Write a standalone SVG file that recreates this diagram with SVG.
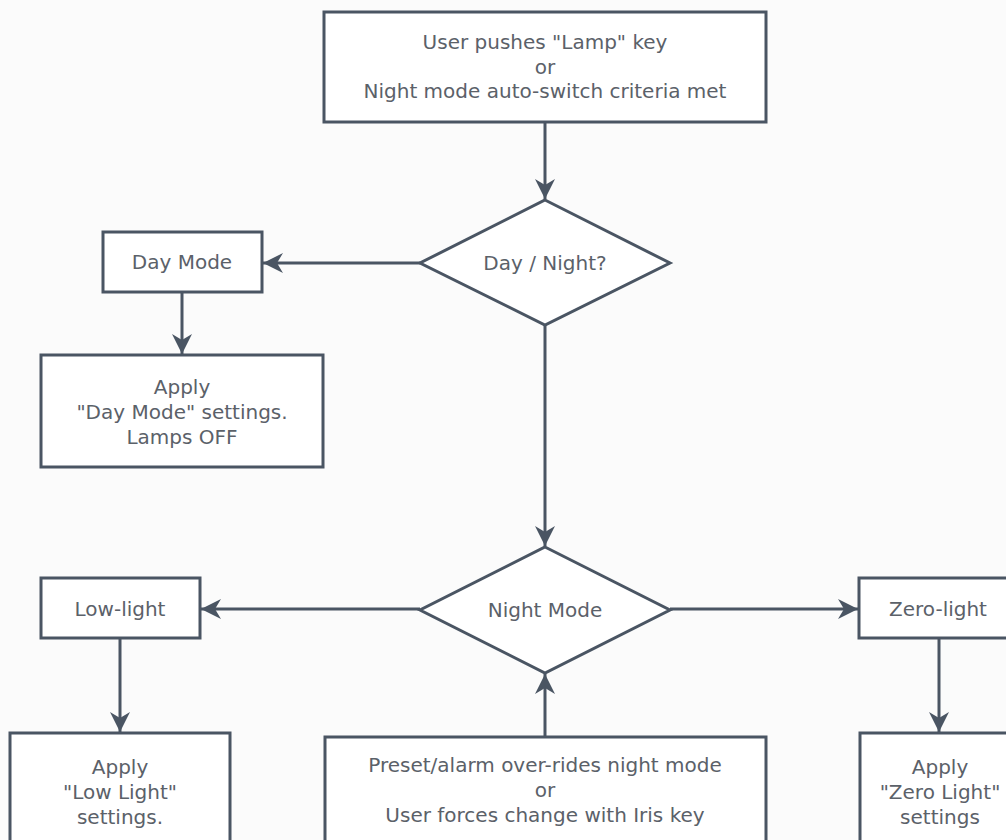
<svg xmlns="http://www.w3.org/2000/svg" width="1006" height="840" viewBox="0 0 1006 840">
<style>
.box{fill:#ffffff;stroke:#4a5563;stroke-width:3}
.t{font-family:"DejaVu Sans",sans-serif;font-size:20px;fill:#5b6169;text-anchor:middle;dominant-baseline:central}
.c{stroke:#4a5563;stroke-width:3;fill:none}
</style>
<defs>
<marker id="ah" markerUnits="userSpaceOnUse" markerWidth="22" markerHeight="22" refX="20" refY="10" orient="auto" viewBox="0 0 22 20">
<path d="M0,0 L20,10 L0,20 L6,10 Z" fill="#4a5563"/>
</marker>
</defs>
<rect width="1006" height="840" fill="#fbfbfb"/>
<g id="connectors">
<line class="c" x1="545" y1="122" x2="545" y2="199" marker-end="url(#ah)"/>
<line class="c" x1="420" y1="263" x2="263" y2="263" marker-end="url(#ah)"/>
<line class="c" x1="182" y1="292" x2="182" y2="354" marker-end="url(#ah)"/>
<line class="c" x1="545" y1="325" x2="545" y2="546" marker-end="url(#ah)"/>
<line class="c" x1="420" y1="609" x2="201" y2="609" marker-end="url(#ah)"/>
<line class="c" x1="670" y1="609" x2="858" y2="609" marker-end="url(#ah)"/>
<line class="c" x1="120" y1="638" x2="120" y2="732" marker-end="url(#ah)"/>
<line class="c" x1="939" y1="638" x2="939" y2="732" marker-end="url(#ah)"/>
<line class="c" x1="545" y1="737" x2="545" y2="674" marker-end="url(#ah)"/>
</g>
<g id="start">
<rect class="box" x="324" y="12" width="442" height="110"/>
<text class="t" x="545" y="42">User pushes "Lamp" key</text>
<text class="t" x="545" y="67">or</text>
<text class="t" x="545" y="91">Night mode auto-switch criteria met</text>
</g>
<g id="daynight">
<polygon class="box" points="545,200 670,263 545,325 420,263"/>
<text class="t" x="545" y="263">Day / Night?</text>
</g>
<g id="daymode">
<rect class="box" x="103" y="232" width="159" height="60"/>
<text class="t" x="182" y="262">Day Mode</text>
</g>
<g id="applyday">
<rect class="box" x="41" y="355" width="282" height="112"/>
<text class="t" x="182" y="387">Apply</text>
<text class="t" x="182" y="412">"Day Mode" settings.</text>
<text class="t" x="182" y="437">Lamps OFF</text>
</g>
<g id="nightmode">
<polygon class="box" points="545,547 670,610 545,673 420,610"/>
<text class="t" x="545" y="610">Night Mode</text>
</g>
<g id="lowlight">
<rect class="box" x="41" y="578" width="159" height="60"/>
<text class="t" x="120" y="609">Low-light</text>
</g>
<g id="applylow">
<rect class="box" x="10" y="733" width="220" height="140"/>
<text class="t" x="120" y="767">Apply</text>
<text class="t" x="120" y="792">"Low Light"</text>
<text class="t" x="120" y="817">settings.</text>
</g>
<g id="override">
<rect class="box" x="325" y="737" width="441" height="140"/>
<text class="t" x="545" y="765">Preset/alarm over-rides night mode</text>
<text class="t" x="545" y="790">or</text>
<text class="t" x="545" y="815">User forces change with Iris key</text>
</g>
<g id="zerolight">
<rect class="box" x="859" y="578" width="159" height="60"/>
<text class="t" x="938" y="609">Zero-light</text>
</g>
<g id="applyzero">
<rect class="box" x="860" y="733" width="220" height="140"/>
<text class="t" x="940" y="767">Apply</text>
<text class="t" x="940" y="792">"Zero Light"</text>
<text class="t" x="940" y="817">settings</text>
</g>
</svg>
